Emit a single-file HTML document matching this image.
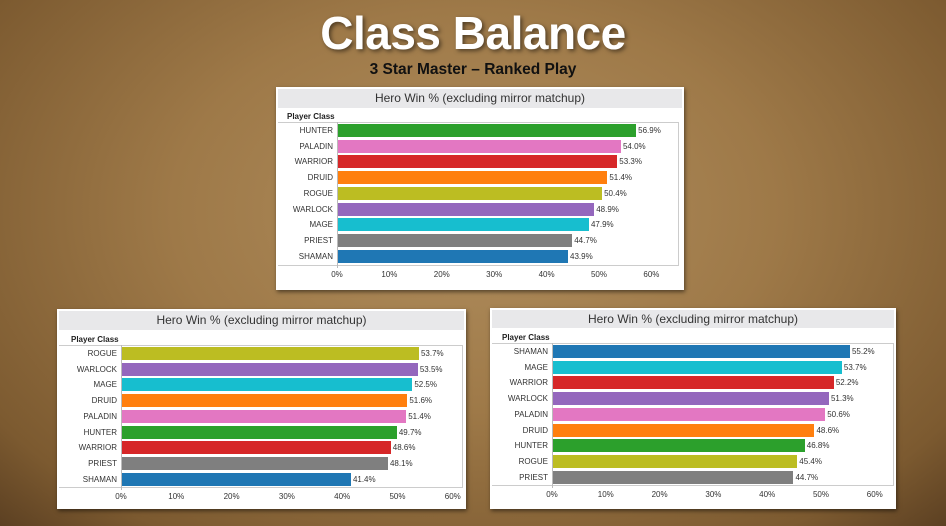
<!DOCTYPE html>
<html><head><meta charset="utf-8"><style>
body{margin:0;width:946px;height:526px;overflow:hidden;position:relative;font-family:"Liberation Sans",sans-serif;
background:radial-gradient(ellipse at 50% 40%,#b08e5e 0%,#9e7948 45%,#7c5a30 85%,#5c4022 100%);}
.t{position:absolute;left:0;width:946px;text-align:center;color:#fff;font-weight:bold;font-size:46px;top:6px;text-shadow:2px 2px 4px rgba(0,0,0,.5);letter-spacing:-0.5px}
.s{position:absolute;left:0;width:946px;text-align:center;color:#111;font-weight:bold;font-size:15.5px;top:61px}
.p{position:absolute;background:#fff;box-shadow:1px 2px 4px rgba(0,0,0,.5)}
.p div{position:absolute}
</style></head><body>
<div class="t">Class Balance</div>
<div class="s">3 Star Master – Ranked Play</div>
<div id="c"></div>
<script>
const C={HUNTER:'#2ca02c',PALADIN:'#e377c2',WARRIOR:'#d62728',DRUID:'#ff7f0e',ROGUE:'#bcbd22',WARLOCK:'#9467bd',MAGE:'#17becf',PRIEST:'#7f7f7f',SHAMAN:'#1f77b4'};
function chart(px,py,pw,ph,tb,ax,top,right,bot,scale,data){
 let h=`<div class="p" style="left:${px}px;top:${py}px;width:${pw}px;height:${ph}px">`;
 h+=`<div style="left:2px;top:2px;width:${pw-4}px;height:${tb-py-2}px;background:#e8e8ea;text-align:center;font-size:12px;line-height:${tb-py-2}px;color:#333">Hero Win % (excluding mirror matchup)</div>`;
 h+=`<div style="left:${ax-px-50}px;top:${top-py-11}px;font-size:8px;font-weight:bold;color:#222">Player Class</div>`;
 h+=`<div style="left:2px;top:${top-py-1}px;width:${right-px-2}px;height:${bot-top}px;border-top:1px solid #ccc;border-bottom:1px solid #ccc;border-right:1px solid #ccc"></div>`;
 h+=`<div style="left:${ax-px}px;top:${top-py-1}px;width:1px;height:${bot-top+4}px;background:#bbb"></div>`;
 data.forEach((d,i)=>{const y=top-py+i*15.7+1;const w=d[1]*scale;
  h+=`<div style="left:${ax-px-80}px;width:76px;text-align:right;top:${y}px;font-size:8px;line-height:13px;color:#333">${d[0]}</div>`;
  h+=`<div style="left:${ax-px+1}px;top:${y}px;width:${w}px;height:13px;background:${C[d[0]]}"></div>`;
  h+=`<div style="left:${ax-px+w+3}px;top:${y}px;font-size:8px;line-height:13px;color:#333">${d[1].toFixed(1)}%</div>`;});
 for(let k=0;k<=6;k++){h+=`<div style="left:${ax-px+k*10*scale-12}px;width:24px;text-align:center;top:${bot-py+5}px;font-size:8px;color:#333">${k*10}%</div>`;}
 return h+'</div>';}
let o='';
o+=chart(276,87,408,203,108,337,123,678,265,5.24,[['HUNTER',56.9],['PALADIN',54.0],['WARRIOR',53.3],['DRUID',51.4],['ROGUE',50.4],['WARLOCK',48.9],['MAGE',47.9],['PRIEST',44.7],['SHAMAN',43.9]]);
o+=chart(57,309,409,200,330,121,346,462,487,5.53,[['ROGUE',53.7],['WARLOCK',53.5],['MAGE',52.5],['DRUID',51.6],['PALADIN',51.4],['HUNTER',49.7],['WARRIOR',48.6],['PRIEST',48.1],['SHAMAN',41.4]]);
o+=chart(490,308,406,201,328,552,344,893,485,5.38,[['SHAMAN',55.2],['MAGE',53.7],['WARRIOR',52.2],['WARLOCK',51.3],['PALADIN',50.6],['DRUID',48.6],['HUNTER',46.8],['ROGUE',45.4],['PRIEST',44.7]]);
document.getElementById('c').innerHTML=o;
</script>
</body></html>
